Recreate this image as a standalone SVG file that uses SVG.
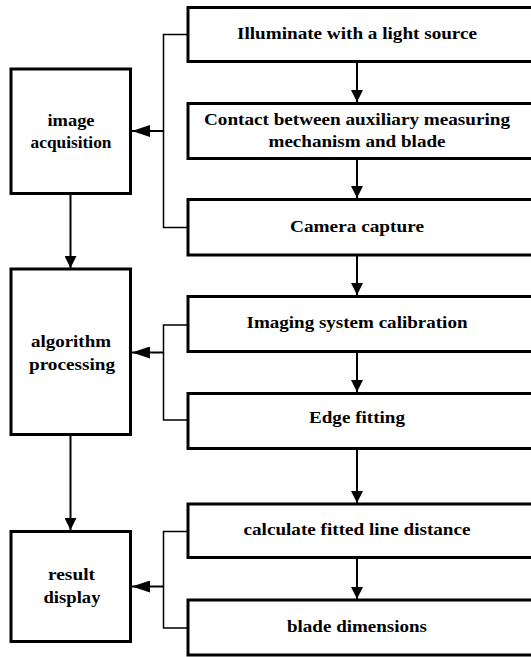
<svg xmlns="http://www.w3.org/2000/svg" width="531" height="657" viewBox="0 0 531 657">
<style>
.box{fill:#fff;stroke:#000;stroke-width:3}
.lbox{fill:#fff;stroke:#000;stroke-width:3}
.t{font-family:"Liberation Serif","Times New Roman",serif;font-weight:bold;font-size:17px;text-anchor:middle;fill:#000}
.c{fill:none;stroke:#000;stroke-width:2}
.b{fill:none;stroke:#000;stroke-width:1.5}
</style>
<defs>
<marker id="ah" viewBox="0 0 12 12" refX="12" refY="6" markerWidth="12" markerHeight="12" markerUnits="userSpaceOnUse" orient="auto">
<path d="M0,0 L12,6 L0,12 Z" fill="#000"/>
</marker>
<marker id="al" viewBox="0 0 18 12" refX="18" refY="6" markerWidth="18" markerHeight="12" markerUnits="userSpaceOnUse" orient="auto">
<path d="M0,0 L18,6 L0,12 Z" fill="#000"/>
</marker>
</defs>
<g id="connectors">
<line class="c" x1="357" y1="63" x2="357" y2="102" marker-end="url(#ah)"/>
<line class="c" x1="357" y1="159" x2="357" y2="198" marker-end="url(#ah)"/>
<line class="c" x1="357" y1="256" x2="357" y2="295" marker-end="url(#ah)"/>
<line class="c" x1="357" y1="352" x2="357" y2="392" marker-end="url(#ah)"/>
<line class="c" x1="357" y1="449" x2="357" y2="503" marker-end="url(#ah)"/>
<line class="c" x1="357" y1="558" x2="357" y2="599" marker-end="url(#ah)"/>
<line class="c" x1="70.5" y1="194" x2="70.5" y2="268" marker-end="url(#ah)"/>
<line class="c" x1="70.5" y1="435" x2="70.5" y2="530" marker-end="url(#ah)"/>
<polyline class="b" points="188,34.5 163.5,34.5 163.5,227.5 188,227.5"/>
<polyline class="b" points="188,325 163.5,325 163.5,420 188,420"/>
<polyline class="b" points="188,531.5 163.5,531.5 163.5,628 188,628"/>
<line class="c" x1="163.5" y1="131" x2="132" y2="131" marker-end="url(#al)"/>
<line class="c" x1="163.5" y1="352.5" x2="132" y2="352.5" marker-end="url(#al)"/>
<line class="c" x1="163.5" y1="586.5" x2="132" y2="586.5" marker-end="url(#al)"/>
</g>
<g id="n1"><rect class="box" x="188" y="7.5" width="350" height="54"/><text class="t" x="357" y="39" textLength="240" lengthAdjust="spacingAndGlyphs">Illuminate with a light source</text></g>
<g id="n2"><rect class="box" x="188" y="103.5" width="350" height="55"/><text class="t" x="357" y="125" textLength="306" lengthAdjust="spacingAndGlyphs">Contact between auxiliary measuring</text><text class="t" x="357" y="146.5" textLength="177" lengthAdjust="spacingAndGlyphs">mechanism and blade</text></g>
<g id="n3"><rect class="box" x="188" y="199.5" width="350" height="55.5"/><text class="t" x="357" y="232" textLength="134" lengthAdjust="spacingAndGlyphs">Camera capture</text></g>
<g id="n4"><rect class="box" x="188" y="296.5" width="350" height="55"/><text class="t" x="357" y="328" textLength="221" lengthAdjust="spacingAndGlyphs">Imaging system calibration</text></g>
<g id="n5"><rect class="box" x="188" y="393.5" width="350" height="55"/><text class="t" x="357" y="423" textLength="96" lengthAdjust="spacingAndGlyphs">Edge fitting</text></g>
<g id="n6"><rect class="box" x="188" y="504" width="350" height="53.5"/><text class="t" x="357" y="535" textLength="227" lengthAdjust="spacingAndGlyphs">calculate fitted line distance</text></g>
<g id="n7"><rect class="box" x="188" y="600" width="350" height="55"/><text class="t" x="357" y="632" textLength="140" lengthAdjust="spacingAndGlyphs">blade dimensions</text></g>
<g id="m1"><rect class="lbox" x="11" y="69" width="119.5" height="124.5"/><text class="t" x="71" y="126" textLength="47" lengthAdjust="spacingAndGlyphs">image</text><text class="t" x="71" y="148" textLength="81" lengthAdjust="spacingAndGlyphs">acquisition</text></g>
<g id="m2"><rect class="lbox" x="11" y="269" width="119.5" height="165.5"/><text class="t" x="71" y="347" textLength="80" lengthAdjust="spacingAndGlyphs">algorithm</text><text class="t" x="72" y="370" textLength="86" lengthAdjust="spacingAndGlyphs">processing</text></g>
<g id="m3"><rect class="lbox" x="11" y="531.5" width="119.5" height="110"/><text class="t" x="71.5" y="580" textLength="47" lengthAdjust="spacingAndGlyphs">result</text><text class="t" x="72" y="603" textLength="57" lengthAdjust="spacingAndGlyphs">display</text></g>
</svg>
